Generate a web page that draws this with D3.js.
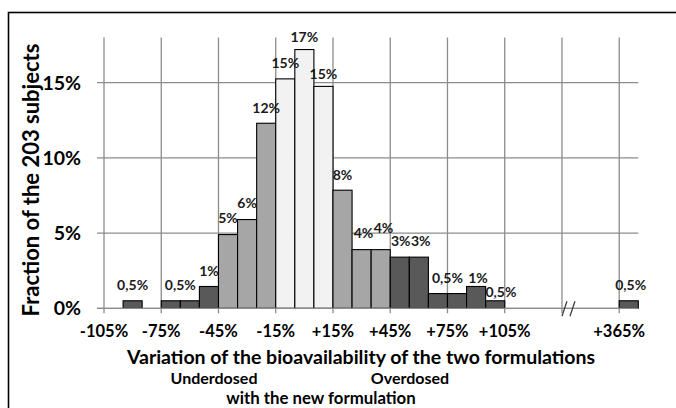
<!DOCTYPE html>
<html>
<head>
<meta charset="utf-8">
<script src="https://cdn.jsdelivr.net/npm/d3@7"></script>
<style>
  html, body { margin: 0; padding: 0; background: #fff; }
  svg { display: block; font-family: Lato, "Open Sans", sans-serif; font-weight: bold; }
</style>
</head>
<body>
<svg id="chart" width="676" height="408"></svg>
<script>
// ---- data ----
const binStarts = [-95, -75, -65, -55, -45, -35, -25, -15, -5, 5, 15, 25, 35, 45, 55, 65, 75, 85, 95, 365];
const binWidth = 10;
const fractions = [0.5, 0.5, 0.5, 1.45, 4.9, 5.9, 12.3, 15.25, 17.2, 14.75, 7.85, 3.9, 3.9, 3.4, 3.4, 0.98, 0.98, 1.45, 0.5, 0.5];
const shade = [2, 2, 2, 2, 1, 1, 1, 0, 0, 0, 1, 1, 1, 2, 2, 2, 2, 2, 2, 2];
const shadeColors = ["#f2f2f2", "#a6a6a6", "#595959"];

const labelTexts = ["0,5%", "0,5%", "1%", "5%", "6%", "12%", "15%", "17%", "15%", "8%", "4%", "4%", "3%", "3%", "0,5%", "1%", "0,5%", "0,5%"];
const labelAt = [-90, -65, -50, -40, -30, -20, -10, 0, 10, 20, 31, 41.5, 50.5, 61, 75, 91, 103, 371];
const labelLevel = [1.22, 1.22, 2.14, 5.68, 6.7, 12.97, 15.98, 17.7, 15.26, 8.52, 4.67, 5.0, 4.14, 4.14, 1.68, 1.68, 0.75, 1.22];

const xTicks = [-105, -75, -45, -15, 15, 45, 75, 105, 135, 365];
const xTickLabels = ["-105%", "-75%", "-45%", "-15%", "+15%", "+45%", "+75%", "+105%", "", "+365%"];
const axisBreak = 135;
const yTicks = [0, 5, 10, 15];
const yTickLabels = ["0%", "5%", "10%", "15%"];
const yMax = 18;

const yTitle = "Fraction of the 203 subjects";
const xTitle = "Variation of the bioavailability of the two formulations";
const underLabel = "Underdosed";
const overLabel = "Overdosed";
const subTitle = "with the new formulation";

// ---- layout ----
const svg = d3.select("#chart");
const L = 104, R = 638.3, T = 37.5, B = 308.3;
const u = (R - L) / 280;

// broken x scale: -105..150 continuous, then 350..375 (365 sits on the 165 slot)
const x = d3.scaleLinear()
  .domain([-105, 150, 350, 375])
  .range([L, L + 255 * u, L + 255 * u, R]);
const y = d3.scaleLinear().domain([0, yMax]).range([B, T]);

// frame
svg.append("rect")
  .attr("x", 8.5).attr("y", 12.5).attr("width", 720).attr("height", 500)
  .attr("fill", "none").attr("stroke", "#000").attr("stroke-width", 1.6);

const gridColor = "#8c8c8c";

// vertical gridlines
svg.append("g").selectAll("line").data(xTicks).join("line")
  .attr("x1", d => x(d)).attr("x2", d => x(d))
  .attr("y1", T).attr("y2", B + 5)
  .attr("stroke", gridColor).attr("stroke-width", 1.3);

// horizontal gridlines
svg.append("g").selectAll("line").data(yTicks).join("line")
  .attr("x1", L - 7).attr("x2", R)
  .attr("y1", d => y(d)).attr("y2", d => y(d))
  .attr("stroke", gridColor).attr("stroke-width", 1.3);

// bars
svg.append("g").selectAll("rect").data(binStarts).join("rect")
  .attr("x", d => x(d))
  .attr("width", d => x(d + binWidth) - x(d))
  .attr("y", (d, i) => y(fractions[i]))
  .attr("height", (d, i) => y(0) - y(fractions[i]))
  .attr("fill", (d, i) => shadeColors[shade[i]])
  .attr("stroke", "#000").attr("stroke-width", 1.1);

// x axis line on top
svg.append("line")
  .attr("x1", L - 7).attr("x2", R).attr("y1", y(0)).attr("y2", y(0))
  .attr("stroke", gridColor).attr("stroke-width", 1.3);

// axis break marks
const bx = x(axisBreak);
svg.append("g").selectAll("line").data([0, 8]).join("line")
  .attr("x1", d => bx + 5 + d).attr("y1", B - 7)
  .attr("x2", d => bx + d).attr("y2", B + 8)
  .attr("stroke", "#404040").attr("stroke-width", 1.3);

// data labels
svg.append("g").selectAll("text").data(labelTexts).join("text")
  .attr("x", (d, i) => x(labelAt[i]))
  .attr("y", (d, i) => y(labelLevel[i]))
  .attr("text-anchor", "middle")
  .attr("font-size", 14)
  .attr("fill", "#1a1a1a")
  .text(d => d);

// x tick labels
svg.append("g").selectAll("text").data(xTicks).join("text")
  .attr("x", d => x(d))
  .attr("y", B + 29)
  .attr("text-anchor", "middle")
  .attr("font-size", 16.5)
  .attr("fill", "#000")
  .text((d, i) => xTickLabels[i]);

// y tick labels
svg.append("g").selectAll("text").data(yTicks).join("text")
  .attr("x", 81)
  .attr("y", d => y(d) + 7)
  .attr("text-anchor", "end")
  .attr("font-size", 19.5)
  .attr("fill", "#000")
  .text((d, i) => yTickLabels[i]);

// y title
svg.append("text")
  .attr("transform", "translate(39,180) rotate(-90)")
  .attr("text-anchor", "middle")
  .attr("font-size", 22)
  .text(yTitle);

// x titles
svg.append("text").attr("x", 361).attr("y", 364)
  .attr("text-anchor", "middle").attr("font-size", 19.5).text(xTitle);
svg.append("text").attr("x", 214).attr("y", 384)
  .attr("text-anchor", "middle").attr("font-size", 16).text(underLabel);
svg.append("text").attr("x", 410).attr("y", 384)
  .attr("text-anchor", "middle").attr("font-size", 16).text(overLabel);
svg.append("text").attr("x", 321).attr("y", 404.3)
  .attr("text-anchor", "middle").attr("font-size", 16.8).text(subTitle);
</script>
</body>
</html>
